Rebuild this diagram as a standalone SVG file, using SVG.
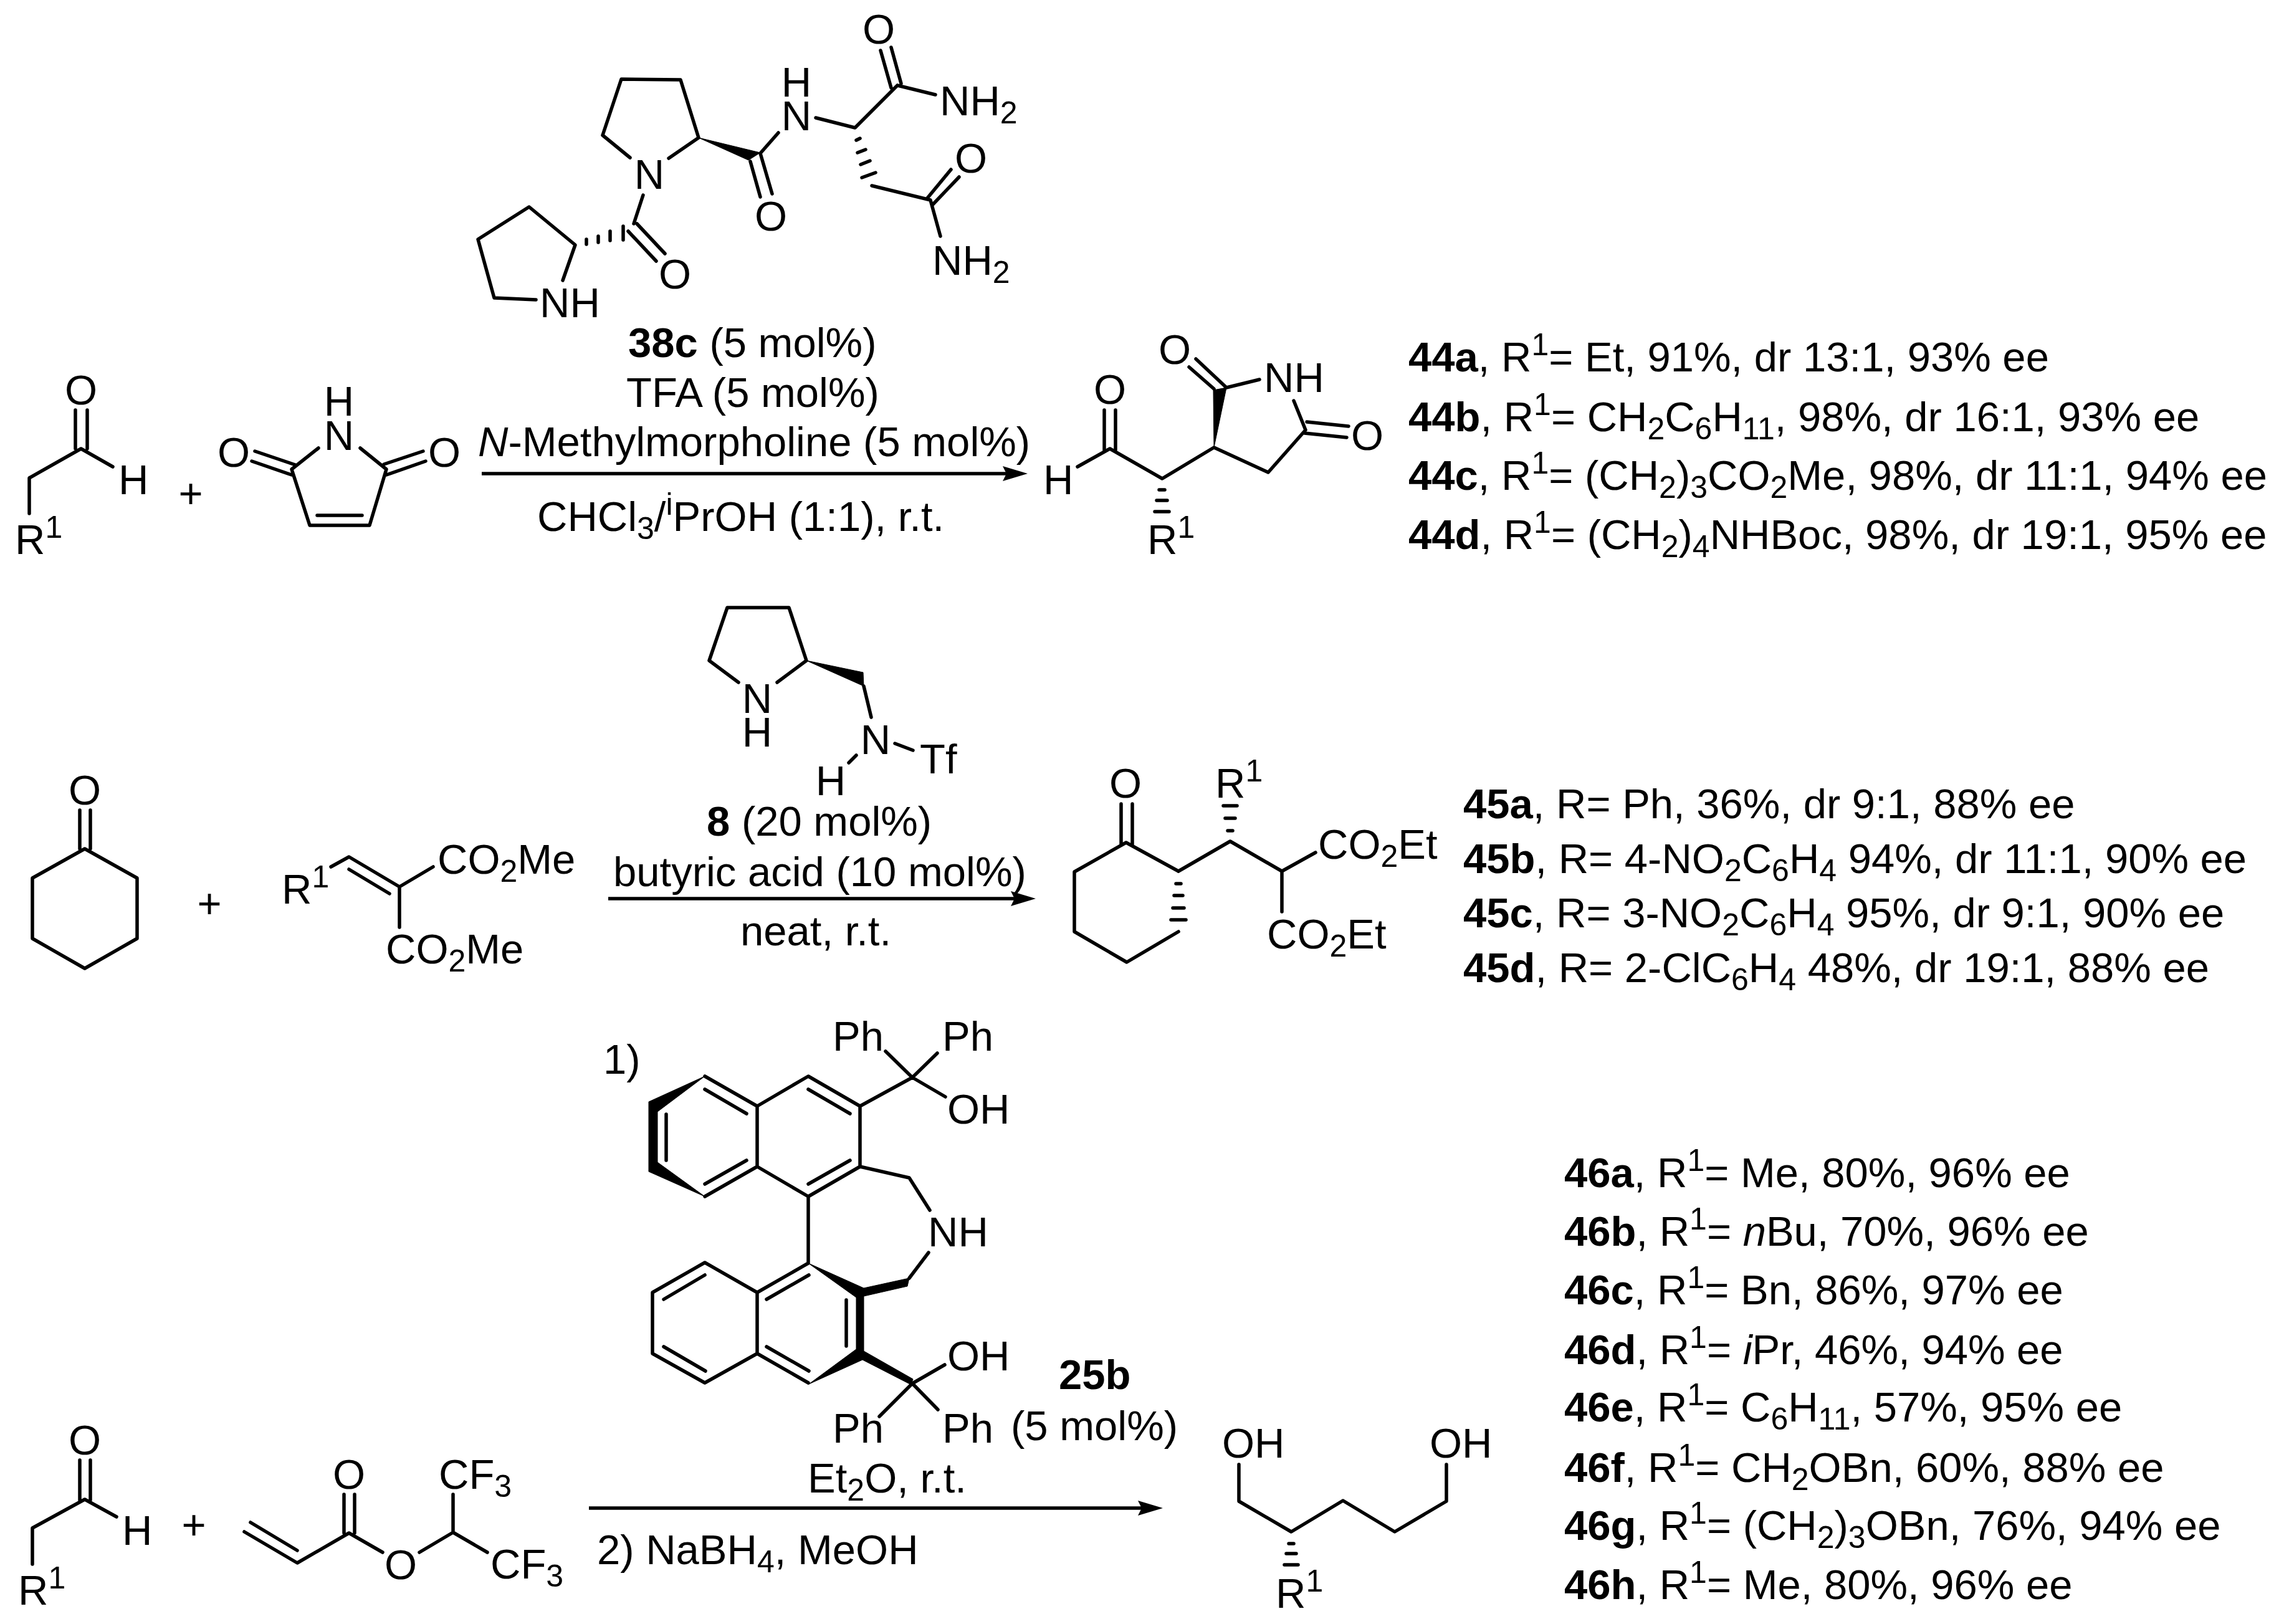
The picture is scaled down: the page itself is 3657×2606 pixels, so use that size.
<svg xmlns="http://www.w3.org/2000/svg" width="3657" height="2606" viewBox="0 0 3657 2606">
<style>
text{font-family:"Liberation Sans",Arial,sans-serif;font-size:67px;fill:#000;white-space:pre}
.m{text-anchor:middle}
.s{font-size:50px}
.h{font-weight:bold}
.i{font-style:italic}
.b{fill:none;stroke:#000;stroke-width:5.5;stroke-linecap:round;stroke-linejoin:round}
.w{fill:#000;stroke:#000;stroke-width:1}
.a{fill:none;stroke:#000;stroke-width:5.5}
</style>
<defs>
<marker id="arr" markerUnits="userSpaceOnUse" markerWidth="42" markerHeight="26" refX="10" refY="13" orient="auto">
<path d="M0,1L40,13L0,25L6,13Z" fill="#000"/>
</marker>
</defs>
<rect width="3657" height="2606" fill="#fff"/>

<g id="connectors">
<path class="a" d="M773,760H1619" marker-end="url(#arr)"/>
<path class="a" d="M976,1442H1632" marker-end="url(#arr)"/>
<path class="a" d="M945,2420H1836" marker-end="url(#arr)"/>
</g>

<g id="aldehyde-1">
<path class="b" d="M47,824V767L130,720L181,749M121,658V720M140,658V720"/>
<text class="m" x="130" y="649">O</text>
<text x="190" y="793">H</text>
<text x="24" y="889">R<tspan class="s" dy="-26">1</tspan></text>
</g>
<text id="plus-1" class="m" x="306" y="815">+</text>

<g id="maleimide">
<path class="b" d="M511,719L468,753L497,843H593L620,753L578,719M509,827H581M409,724L474,746M404,740L468,762M679,724L616,745M683,740L620,762"/>
<text class="m" x="544" y="667">H</text>
<text class="m" x="544" y="722">N</text>
<text class="m" x="375" y="749">O</text>
<text class="m" x="713" y="749">O</text>
</g>

<g id="catalyst-38c">
<path class="b" d="M967,217L997,127L1092,128L1121,221L1073,254M967,217L1011,253M1220,246L1249,213M1204,259L1220,316M1220,246L1239,311M1309,189L1372,205L1440,137M1413,81L1430,141M1430,76L1446,134M1440,137L1501,152M1399,298L1493,321L1509,379M1488,318L1526,272M1497,328L1539,284M860,481L793,478L767,384L849,332L923,393L903,450M1032,313L1017,359M1022,359L1067,407M1008,371L1053,419"/>
<polygon class="w" points="1121,221 1220,245 1201,257"/>
<path class="b" d="M1374,225L1380,222M1376,245L1389,240M1381,264L1396,258M1383,285L1405,277M941,384V392M960,379V389M979,371V386M1000,363V385"/>
<text class="m" x="1042" y="303">N</text>
<text class="m" x="1278" y="155">H</text>
<text class="m" x="1278" y="209">N</text>
<text class="m" x="1237" y="370">O</text>
<text class="m" x="1410" y="70">O</text>
<text class="m" x="1558" y="277">O</text>
<text class="m" x="1083" y="463">O</text>
<text x="1508" y="185">NH<tspan class="s" dy="13">2</tspan></text>
<text x="1496" y="441">NH<tspan class="s" dy="13">2</tspan></text>
<text x="866" y="509">NH</text>
</g>

<g id="conditions-1">
<text x="1008" y="573"><tspan class="h">38c</tspan> (5 mol%)</text>
<text class="m" x="1208" y="653">TFA (5 mol%)</text>
<text x="767" y="732"><tspan class="i">N</tspan>-Methylmorpholine (5 mol%)</text>
<text x="862" y="852">CHCl<tspan class="s" dy="13">3</tspan><tspan dy="-13">/</tspan><tspan class="s" dy="-26">i</tspan><tspan dy="26">PrOH (1:1), r.t.</tspan></text>
</g>

<g id="product-44">
<path class="b" d="M1729,749L1781,720L1865,768L1948,718L2035,758L2095,690L2076,643M1772,658V722M1790,658V722M1968,622L2021,609M1908,589L1948,624M1919,576L1967,621M2097,677L2164,684M2093,695L2161,702M1860,786H1869M1856,803H1873M1853,821H1876"/>
<polygon class="w" points="1948,718 1947,626 1968,622"/>
<text class="m" x="1781" y="648">O</text>
<text class="m" x="1885" y="584">O</text>
<text class="m" x="2194" y="722">O</text>
<text x="1674" y="793">H</text>
<text x="2028" y="629">NH</text>
<text x="1841" y="889">R<tspan class="s" dy="-26">1</tspan></text>
</g>

<g id="results-44">
<text x="2260" y="596"><tspan class="h">44a</tspan>, R<tspan class="s" dy="-26">1</tspan><tspan dy="26">= Et, 91%, dr 13:1, 93% ee</tspan></text>
<text x="2260" y="692"><tspan class="h">44b</tspan>, R<tspan class="s" dy="-26">1</tspan><tspan dy="26">= CH</tspan><tspan class="s" dy="13">2</tspan><tspan dy="-13">C</tspan><tspan class="s" dy="13">6</tspan><tspan dy="-13">H</tspan><tspan class="s" dy="13">11</tspan><tspan dy="-13">, 98%, dr 16:1, 93% ee</tspan></text>
<text x="2260" y="786"><tspan class="h">44c</tspan>, R<tspan class="s" dy="-26">1</tspan><tspan dy="26">= (CH</tspan><tspan class="s" dy="13">2</tspan><tspan dy="-13">)</tspan><tspan class="s" dy="13">3</tspan><tspan dy="-13">CO</tspan><tspan class="s" dy="13">2</tspan><tspan dy="-13">Me, 98%, dr 11:1, 94% ee</tspan></text>
<text x="2260" y="881"><tspan class="h">44d</tspan>, R<tspan class="s" dy="-26">1</tspan><tspan dy="26">= (CH</tspan><tspan class="s" dy="13">2</tspan><tspan dy="-13">)</tspan><tspan class="s" dy="13">4</tspan><tspan dy="-13">NHBoc, 98%, dr 19:1, 95% ee</tspan></text>
</g>

<g id="cyclohexanone">
<path class="b" d="M136,1362L220,1409V1506L136,1554L52,1506V1409ZM128,1300V1362M145,1300V1362"/>
<text class="m" x="136" y="1291">O</text>
</g>
<text id="plus-2" class="m" x="336" y="1473">+</text>

<g id="alkylidene-malonate">
<path class="b" d="M531,1391L560,1375L641,1423L695,1391M560,1395L625,1434M641,1423V1488"/>
<text x="452" y="1450">R<tspan class="s" dy="-26">1</tspan></text>
<text x="702" y="1402">CO<tspan class="s" dy="13">2</tspan><tspan dy="-13">Me</tspan></text>
<text x="619" y="1546">CO<tspan class="s" dy="13">2</tspan><tspan dy="-13">Me</tspan></text>
</g>

<g id="catalyst-8">
<path class="b" d="M1185,1095L1138,1060L1167,975H1266L1294,1060L1247,1095M1386,1101L1398,1151M1436,1193L1465,1204M1374,1212L1362,1224"/>
<polygon class="w" points="1294,1060 1385,1079 1386,1101"/>
<text class="m" x="1215" y="1144">N</text>
<text class="m" x="1215" y="1198">H</text>
<text class="m" x="1405" y="1210">N</text>
<text x="1476" y="1241">Tf</text>
<text class="m" x="1333" y="1276">H</text>
</g>

<g id="conditions-2">
<text x="1134" y="1341"><tspan class="h">8</tspan> (20 mol%)</text>
<text x="984" y="1422">butyric acid (10 mol%)</text>
<text x="1188" y="1517">neat, r.t.</text>
</g>

<g id="product-45">
<path class="b" d="M1891,1398L1807,1352L1724,1399V1495L1808,1544L1891,1495M1799,1290V1355M1817,1290V1355M1891,1398L1974,1350L2057,1398L2111,1368M2057,1398V1463M1887,1418H1895M1884,1437H1898M1882,1457H1900M1879,1476H1903M1970,1333H1978M1966,1313H1982M1963,1293H1985"/>
<text class="m" x="1806" y="1280">O</text>
<text x="1950" y="1280">R<tspan class="s" dy="-26">1</tspan></text>
<text x="2115" y="1378">CO<tspan class="s" dy="13">2</tspan><tspan dy="-13">Et</tspan></text>
<text x="2033" y="1522">CO<tspan class="s" dy="13">2</tspan><tspan dy="-13">Et</tspan></text>
</g>

<g id="results-45">
<text x="2348" y="1313"><tspan class="h">45a</tspan>, R= Ph, 36%, dr 9:1, 88% ee</text>
<text x="2348" y="1401"><tspan class="h">45b</tspan>, R= 4-NO<tspan class="s" dy="13">2</tspan><tspan dy="-13">C</tspan><tspan class="s" dy="13">6</tspan><tspan dy="-13">H</tspan><tspan class="s" dy="13">4</tspan><tspan dy="-13"> 94%, dr 11:1, 90% ee</tspan></text>
<text x="2348" y="1488"><tspan class="h">45c</tspan>, R= 3-NO<tspan class="s" dy="13">2</tspan><tspan dy="-13">C</tspan><tspan class="s" dy="13">6</tspan><tspan dy="-13">H</tspan><tspan class="s" dy="13">4</tspan><tspan dy="-13"> 95%, dr 9:1, 90% ee</tspan></text>
<text x="2348" y="1576"><tspan class="h">45d</tspan>, R= 2-ClC<tspan class="s" dy="13">6</tspan><tspan dy="-13">H</tspan><tspan class="s" dy="13">4</tspan><tspan dy="-13"> 48%, dr 19:1, 88% ee</tspan></text>
</g>

<g id="aldehyde-3">
<path class="b" d="M52,2510V2452L136,2406L187,2434M128,2343V2407M145,2343V2407"/>
<text class="m" x="136" y="2334">O</text>
<text x="196" y="2479">H</text>
<text x="29" y="2575">R<tspan class="s" dy="-26">1</tspan></text>
</g>
<text id="plus-3" class="m" x="311" y="2470">+</text>

<g id="acrylate">
<path class="b" d="M402,2443L477,2488M392,2458L477,2508L560,2460L614,2491M552,2398V2460M569,2398V2460M673,2491L727,2459L782,2491M727,2459V2398"/>
<text class="m" x="560" y="2389">O</text>
<text class="m" x="643" y="2534">O</text>
<text x="704" y="2389">CF<tspan class="s" dy="13">3</tspan></text>
<text x="787" y="2533">CF<tspan class="s" dy="13">3</tspan></text>
</g>

<g id="catalyst-25b">
<path class="b" d="M1421,1687L1464,1729L1504,1690M1464,1729L1517,1760M1464,1729L1380,1775V1872L1297,1920L1215,1872V1775L1297,1727L1380,1775M1215,1775L1131,1727M1215,1872L1131,1920M1131,1748L1198,1787M1069,1788V1862M1131,1900L1198,1862M1297,1748L1364,1787M1297,1900L1364,1862M1380,1872L1459,1890L1492,1942M1297,1920V2027L1215,2074V2172L1297,2219M1215,2074L1131,2026L1047,2074V2172L1131,2219L1215,2172M1131,2046L1065,2085M1065,2161L1132,2200M1298,2046L1230,2085M1230,2161L1298,2200M1358,2086V2160M1459,2051L1490,2010M1464,2220L1516,2190M1464,2220L1411,2273M1464,2220L1505,2262"/>
<polygon class="w" points="1131,1727 1041,1768 1041,1880 1131,1920 1055,1865 1055,1784"/>
<polygon class="w" points="1297,2027 1386,2067 1386,2168 1465,2213 1462,2222 1384,2182 1298,2221 1374,2165 1374,2082"/>
<polygon class="w" points="1386,2067 1459,2051 1456,2064 1386,2080"/>
<text x="1336" y="1686">Ph</text>
<text x="1512" y="1686">Ph</text>
<text x="1520" y="1803">OH</text>
<text x="1489" y="2000">NH</text>
<text x="1520" y="2199">OH</text>
<text x="1336" y="2315">Ph</text>
<text x="1512" y="2315">Ph</text>
</g>

<g id="conditions-3">
<text x="968" y="1723">1)</text>
<text x="1699" y="2229" class="h">25b</text>
<text x="1622" y="2311">(5 mol%)</text>
<text x="1296" y="2395">Et<tspan class="s" dy="13">2</tspan><tspan dy="-13">O, r.t.</tspan></text>
<text x="958" y="2510">2) NaBH<tspan class="s" dy="13">4</tspan><tspan dy="-13">, MeOH</tspan></text>
</g>

<g id="product-46">
<path class="b" d="M1988,2350V2409L2072,2458L2155,2408L2238,2458L2321,2409V2350M2068,2477H2076M2064,2493H2080M2061,2511H2083"/>
<text x="1961" y="2339">OH</text>
<text x="2294" y="2339">OH</text>
<text x="2047" y="2580">R<tspan class="s" dy="-26">1</tspan></text>
</g>

<g id="results-46">
<text x="2510" y="1905"><tspan class="h">46a</tspan>, R<tspan class="s" dy="-26">1</tspan><tspan dy="26">= Me, 80%, 96% ee</tspan></text>
<text x="2510" y="1999"><tspan class="h">46b</tspan>, R<tspan class="s" dy="-26">1</tspan><tspan dy="26">= </tspan><tspan class="i">n</tspan>Bu, 70%, 96% ee</text>
<text x="2510" y="2093"><tspan class="h">46c</tspan>, R<tspan class="s" dy="-26">1</tspan><tspan dy="26">= Bn, 86%, 97% ee</tspan></text>
<text x="2510" y="2189"><tspan class="h">46d</tspan>, R<tspan class="s" dy="-26">1</tspan><tspan dy="26">= </tspan><tspan class="i">i</tspan>Pr, 46%, 94% ee</text>
<text x="2510" y="2281"><tspan class="h">46e</tspan>, R<tspan class="s" dy="-26">1</tspan><tspan dy="26">= C</tspan><tspan class="s" dy="13">6</tspan><tspan dy="-13">H</tspan><tspan class="s" dy="13">11</tspan><tspan dy="-13">, 57%, 95% ee</tspan></text>
<text x="2510" y="2378"><tspan class="h">46f</tspan>, R<tspan class="s" dy="-26">1</tspan><tspan dy="26">= CH</tspan><tspan class="s" dy="13">2</tspan><tspan dy="-13">OBn, 60%, 88% ee</tspan></text>
<text x="2510" y="2471"><tspan class="h">46g</tspan>, R<tspan class="s" dy="-26">1</tspan><tspan dy="26">= (CH</tspan><tspan class="s" dy="13">2</tspan><tspan dy="-13">)</tspan><tspan class="s" dy="13">3</tspan><tspan dy="-13">OBn, 76%, 94% ee</tspan></text>
<text x="2510" y="2566"><tspan class="h">46h</tspan>, R<tspan class="s" dy="-26">1</tspan><tspan dy="26">= Me, 80%, 96% ee</tspan></text>
</g>
</svg>
